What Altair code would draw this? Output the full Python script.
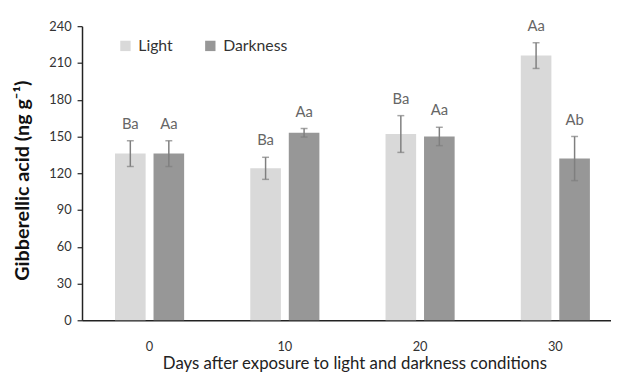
import altair as alt
import pandas as pd

days = ["0", "10", "20", "30"]
series = ["Light", "Darkness"]
light = [136, 124, 152, 216]
light_err = [10.5, 9, 15, 10.5]
dark = [136, 153, 150, 132]
dark_err = [10.5, 3.5, 7.5, 18]
light_labels = ["Ba", "Ba", "Ba", "Aa"]
dark_labels = ["Aa", "Aa", "Aa", "Ab"]

rows = []
for i, d in enumerate(days):
    rows.append(dict(day=d, series="Light", value=light[i], lo=light[i] - light_err[i],
                     hi=light[i] + light_err[i], label=light_labels[i]))
    rows.append(dict(day=d, series="Darkness", value=dark[i], lo=dark[i] - dark_err[i],
                     hi=dark[i] + dark_err[i], label=dark_labels[i]))
df = pd.DataFrame(rows)

FONT = "Lato"
Y_TITLE = "Gibberellic acid (ng g⁻¹)"

x = alt.X("day:N", sort=days, title="Days after exposure to light and darkness conditions",
          scale=alt.Scale(paddingInner=0.489, paddingOuter=0.2, align=0.61),
          axis=alt.Axis(labelAngle=0, ticks=False, domainColor="#222", domainWidth=1.5,
                        labelFont=FONT, labelFontSize=13, labelColor="#333", labelPadding=21,
                        titleFont=FONT, titleFontSize=17, titleFontWeight="normal",
                        titleColor="#222", titleX=276, titleY=36, titleBaseline="top"))
xo = alt.XOffset("series:N", sort=series, scale=alt.Scale(domain=series, paddingInner=0.205, paddingOuter=0))

yscale = alt.Scale(domain=[0, 240], nice=False)
yaxis = alt.Axis(values=list(range(0, 241, 30)), grid=False, domainColor="#222",
                 domainWidth=1.5, tickColor="#222", tickSize=5, tickWidth=1.2,
                 labelOverlap=False,
                 labelFont=FONT, labelFontSize=13, labelColor="#333", labelPadding=6,
                 titleFont=FONT, titleFontSize=20, titleFontWeight="bold",
                 titleColor="#111", titleX=-50, titleY=156)


def Y(field):
    return alt.Y(field, title=Y_TITLE, scale=yscale, axis=yaxis)


base = alt.Chart(df)

bars = base.mark_bar().encode(
    x=x, xOffset=xo,
    y=Y("value:Q"),
    color=alt.Color("series:N", sort=series,
                    scale=alt.Scale(domain=series, range=["#d9d9d9", "#979797"]),
                    legend=alt.Legend(title=None, orient="none", legendX=36, legendY=12,
                                      direction="horizontal", symbolType="square",
                                      symbolSize=110, symbolStrokeWidth=0, symbolOpacity=1,
                                      labelFont=FONT, labelFontSize=16, labelColor="#333",
                                      labelOffset=5, columnPadding=30)),
)

rules = base.mark_rule(color="#7f7f7f", strokeWidth=1.5).encode(
    x=x, xOffset=xo, y=Y("lo:Q"), y2="hi:Q")
cap_lo = base.mark_tick(color="#7f7f7f", thickness=1.5, size=7).encode(
    x=x, xOffset=xo, y=Y("lo:Q"))
cap_hi = base.mark_tick(color="#7f7f7f", thickness=1.5, size=7).encode(
    x=x, xOffset=xo, y=Y("hi:Q"))
texts = base.mark_text(font=FONT, fontSize=15, color="#666", baseline="bottom", dy=-9).encode(
    x=x, xOffset=xo, y=Y("hi:Q"), text="label:N")

chart = alt.layer(bars, rules, cap_lo, cap_hi, texts).properties(
    width=536, height=298,
    autosize=alt.AutoSizeParams(type="none"),
    padding={"left": 75, "top": 16, "right": 0, "bottom": 51},
).configure_view(stroke=None)

chart.save("out.html", embed_options={"renderer": "svg", "actions": False})
